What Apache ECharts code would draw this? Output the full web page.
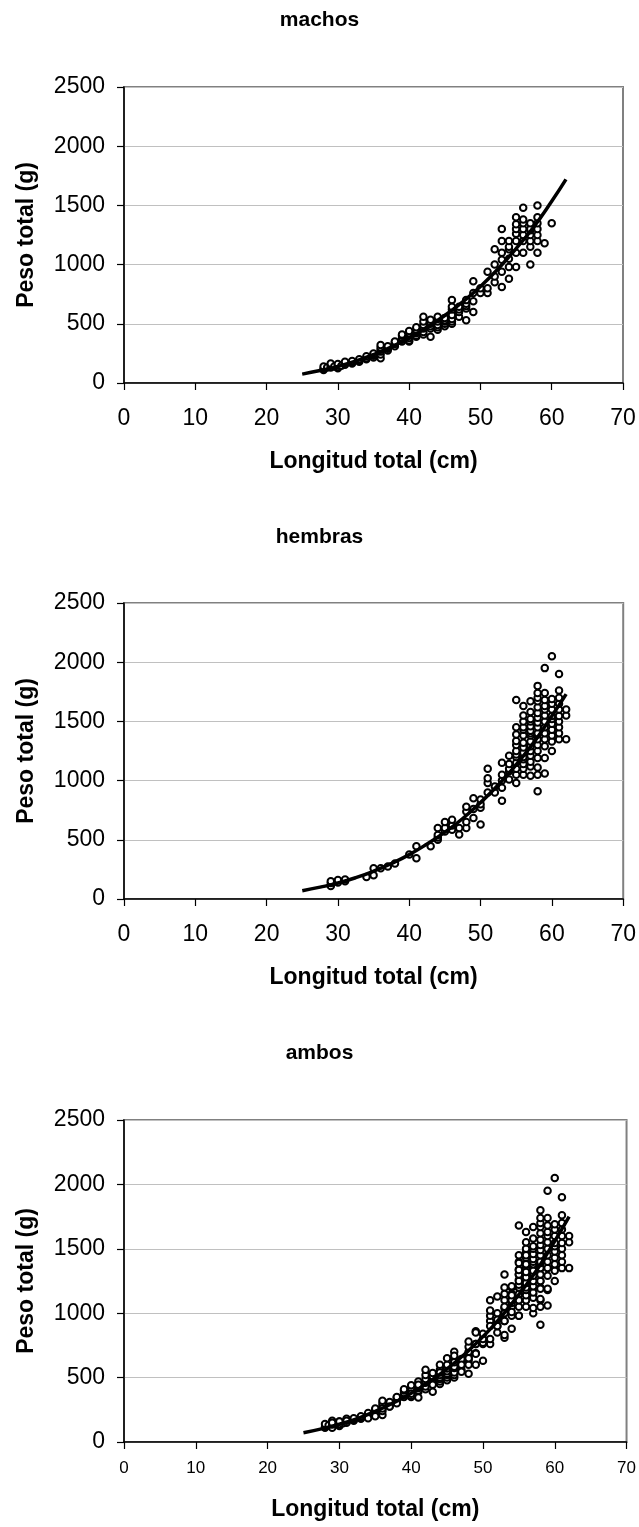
<!DOCTYPE html>
<html>
<head>
<meta charset="utf-8">
<script src="https://cdn.jsdelivr.net/npm/echarts@6/dist/echarts.min.js"></script>
<style>
html,body{margin:0;padding:0;background:#fff;}
#c{width:639px;height:1527px;}
</style>
</head>
<body>
<div id="c"></div>
<script>
// ---- DATA ----
const panelTitles = ['machos', 'hembras', 'ambos'];
const xAxisTitle = 'Longitud total (cm)';
const yAxisTitle = 'Peso total (g)';

// Machos: [longitud (cm), peso (g)]
const machosPoints = [
  [28,110],[28,120],[28,140],[28.5,130],[29,130],[29,150],[29,165],[29.5,140],[30,125],[30,135],[30,150],[30,160],[30.5,145],
  [31,155],[31,170],[31,180],[32,165],[32,175],[32,185],[33,180],[33,190],[33,200],[34,200],[34,210],[34,225],
  [35,215],[35,230],[35,240],[35,250],[36,210],[36,240],[36,265],[36,280],[36,300],[36,320],
  [37,275],[37,290],[37,300],[37,310],[38,310],[38,330],[38,345],[38,350],[39,350],[39,365],[39,380],[39,400],[39,410],
  [40,350],[40,360],[40,380],[40,400],[40,420],[40,440],[41,390],[41,400],[41,420],[41,430],[41,450],[41,470],
  [42,410],[42,430],[42,460],[42,470],[42,490],[42,520],[42,560],[43,390],[43,460],[43,480],[43,500],[43,510],[43,535],
  [44,450],[44,470],[44,490],[44,520],[44,540],[44,560],[45,480],[45,500],[45,520],[45,530],[45,550],
  [46,500],[46,520],[46,540],[46,575],[46,620],[46,645],[46,700],[47,560],[47,600],[47,620],[47,645],
  [48,530],[48,630],[48,650],[48,670],[48,700],[49,600],[49,690],[49,760],[49,860],[50,760],[50,800],
  [51,760],[51,800],[51,940],[52,850],[52,900],[52,1000],[52,1130],
  [53,810],[53,940],[53,1040],[53,1100],[53,1200],[53,1300],
  [54,880],[54,980],[54,1050],[54,1130],[54,1150],[54,1200],
  [55,980],[55,1100],[55,1200],[55,1260],[55,1300],[55,1340],[55,1400],
  [56,1100],[56,1200],[56,1250],[56,1300],[56,1350],[56,1380],[56,1480],
  [57,1000],[57,1150],[57,1200],[57,1250],[57,1290],[57,1300],[57,1350],
  [58,1100],[58,1200],[58,1250],[58,1300],[58,1350],[58,1400],[58,1500],
  [59,1180],[60,1350]
];

// Hembras: [longitud (cm), peso (g)]
const hembrasPoints = [
  [29,110],[29,135],[29,150],[30,140],[30,160],[31,150],[31,165],[34,185],[35,200],[35,260],
  [36,260],[37,275],[38,300],[40,375],[41,345],[41,445],[43,445],[44,500],[44,520],[44,540],[44,600],
  [45,570],[45,600],[45,650],[46,585],[46,620],[46,670],[47,545],[47,600],[48,600],[48,650],[48,740],[48,780],
  [49,685],[49,760],[49,850],[50,630],[50,770],[50,800],[50,840],[51,900],[51,980],[51,1020],[51,1100],[52,900],[52,950],
  [53,830],[53,940],[53,1000],[53,1050],[53,1150],[54,1010],[54,1080],[54,1100],[54,1140],[54,1210],
  [55,980],[55,1050],[55,1100],[55,1150],[55,1200],[55,1220],[55,1250],[55,1300],[55,1335],[55,1390],[55,1450],[55,1680],
  [56,1050],[56,1100],[56,1140],[56,1180],[56,1200],[56,1235],[56,1280],[56,1320],[56,1380],[56,1430],[56,1450],[56,1500],[56,1550],[56,1630],
  [57,1040],[57,1120],[57,1160],[57,1210],[57,1250],[57,1290],[57,1330],[57,1380],[57,1400],[57,1420],[57,1460],[57,1500],[57,1520],[57,1580],[57,1670],
  [58,910],[58,1050],[58,1110],[58,1190],[58,1250],[58,1300],[58,1350],[58,1390],[58,1400],[58,1450],[58,1490],[58,1530],[58,1570],[58,1620],[58,1670],[58,1700],[58,1740],[58,1800],
  [59,1060],[59,1190],[59,1290],[59,1350],[59,1400],[59,1450],[59,1500],[59,1550],[59,1600],[59,1630],[59,1680],[59,1740],[59,1950],
  [60,1250],[60,1330],[60,1380],[60,1430],[60,1480],[60,1520],[60,1545],[60,1600],[60,1650],[60,1690],[60,2050],
  [61,1350],[61,1400],[61,1450],[61,1500],[61,1545],[61,1600],[61,1650],[61,1700],[61,1760],[61,1900],
  [62,1350],[62,1550],[62,1600]
];

// Ambos = all fish
const ambosPoints = machosPoints.concat(hembrasPoints);

// Fitted curves: [longitud, peso]
const machosCurve = [[25,75],[27.5,105],[30,140],[32.5,185],[35,240],[37.5,305],[40,380],[42.5,470],[45,570],[47.5,685],[50,815],[52.5,965],[55,1135],[57.5,1320],[60,1535],[62,1720]];
const hembrasCurve = [[25,70],[27.5,100],[30,135],[32.5,180],[35,235],[37.5,300],[40,375],[42.5,465],[45,565],[47.5,680],[50,815],[52.5,965],[55,1135],[57.5,1325],[60,1545],[62,1730]];
const ambosCurve = [[25,72],[27.5,102],[30,138],[32.5,182],[35,238],[37.5,303],[40,378],[42.5,468],[45,568],[47.5,685],[50,818],[52.5,970],[55,1145],[57.5,1335],[60,1560],[62,1750]];

const xTicks = {min: 0, max: 70, interval: 10};
const yTicks = {min: 0, max: 2500, interval: 500};

// ---- LAYOUT ----
const FONT = '"Liberation Sans", Arial, sans-serif';
const grids = [
  {left: 124, top: 87, width: 499, height: 296},
  {left: 124, top: 603, width: 500, height: 296},
  {left: 124, top: 1120, width: 511, height: 322}
];
const titleTops = [5, 522, 1038];
const xLabelSize = [23, 23, 17];
const xLabelMargin = [24, 24, 18];
const xNameGap = [67, 67, 56];
const pointsSets = [machosPoints, hembrasPoints, ambosPoints];
const curves = [machosCurve, hembrasCurve, ambosCurve];

const option = {
  animation: false,
  backgroundColor: '#ffffff',
  textStyle: {fontFamily: FONT, color: '#000'},
  title: panelTitles.map((t, i) => ({
    text: t, left: 'center', top: titleTops[i],
    textStyle: {fontFamily: FONT, fontSize: 21, fontWeight: 'bold', color: '#000'}
  })),
  grid: grids.map(g => Object.assign({show: true, borderColor: '#808080', borderWidth: 2, backgroundColor: '#fff', containLabel: false}, g)),
  xAxis: grids.map((g, i) => ({
    type: 'value', gridIndex: i, min: xTicks.min, max: xTicks.max, interval: xTicks.interval,
    name: xAxisTitle, nameLocation: 'middle', nameGap: xNameGap[i],
    nameTextStyle: {fontFamily: FONT, fontSize: 23, fontWeight: 'bold', color: '#000'},
    axisLine: {show: true, onZero: false, lineStyle: {color: '#000', width: 1.5}},
    axisTick: {show: true, inside: false, length: 7, lineStyle: {color: '#000', width: 1.2}},
    axisLabel: {fontFamily: FONT, fontSize: xLabelSize[i], color: '#000', margin: xLabelMargin[i], showMaxLabel: true, showMinLabel: true, hideOverlap: false, formatter: v => String(v)},
    splitLine: {show: false}
  })),
  yAxis: grids.map((g, i) => ({
    type: 'value', gridIndex: i, min: yTicks.min, max: yTicks.max, interval: yTicks.interval,
    name: yAxisTitle, nameLocation: 'middle', nameGap: 86, nameRotate: 90,
    nameTextStyle: {fontFamily: FONT, fontSize: 23, fontWeight: 'bold', color: '#000'},
    axisLine: {show: true, onZero: false, lineStyle: {color: '#000', width: 1.5}},
    axisTick: {show: true, inside: false, length: 7, lineStyle: {color: '#000', width: 1.2}},
    axisLabel: {fontFamily: FONT, fontSize: 23, color: '#000', margin: 19, formatter: v => String(v)},
    splitLine: {show: true, lineStyle: {color: '#c0c0c0', width: 1}}
  })),
  series: []
};

pointsSets.forEach((pts, i) => {
  option.series.push({
    type: 'scatter', xAxisIndex: i, yAxisIndex: i, data: pts,
    symbol: 'circle', symbolSize: 6.5, z: 2,
    itemStyle: {color: '#ffffff', borderColor: '#000000', borderWidth: 2, opacity: 1}
  });
  option.series.push({
    type: 'line', xAxisIndex: i, yAxisIndex: i, data: curves[i],
    smooth: true, showSymbol: false, symbol: 'none', z: 3,
    lineStyle: {color: '#000', width: 3.5}
  });
});

const chart = echarts.init(document.getElementById('c'), null, {renderer: 'canvas'});
chart.setOption(option);
</script>
</body>
</html>
